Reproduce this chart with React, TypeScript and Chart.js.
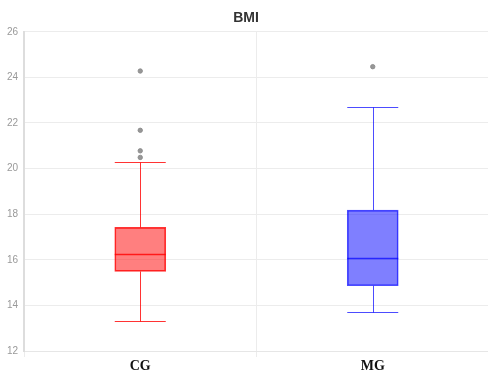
import React, { useEffect, useRef } from "react";
import { Chart, registerables } from "chart.js";

Chart.register(...registerables);

const categories = ["CG", "MG"];
const whiskerLow = [13.3, 13.69];
const q1 = [15.49, 14.86];
const median = [16.24, 16.1];
const q3 = [17.42, 18.18];
const whiskerHigh = [20.27, 22.68];
const outliersCG = [24.28, 21.68, 20.78, 20.49];
const outliersMG = [24.47];
const yTicks = [12, 14, 16, 18, 20, 22, 24, 26];

const fills = ["rgba(255,0,0,0.5)", "rgba(0,0,255,0.5)"];
const strokes = ["rgba(255,0,0,0.8)", "rgba(0,0,255,0.7)"];

const boxPlugin = {
  id: "boxWhiskers",
  afterDatasetsDraw(chart: any) {
    const ctx = chart.ctx;
    const x = chart.scales.x;
    const y = chart.scales.y;
    const meta = chart.getDatasetMeta(0);
    ctx.save();
    categories.forEach((_, i) => {
      const bar = meta.data[i];
      const cx = x.getPixelForValue(i);
      const half = bar.width / 2;
      ctx.strokeStyle = strokes[i];
      ctx.lineWidth = 1;
      const yl = Math.round(y.getPixelForValue(whiskerLow[i])) + 0.5;
      const yh = Math.round(y.getPixelForValue(whiskerHigh[i])) + 0.5;
      const yq1 = y.getPixelForValue(q1[i]);
      const yq3 = y.getPixelForValue(q3[i]);
      const ym = Math.round(y.getPixelForValue(median[i])) + 0.5;
      const xc = Math.round(cx) + 0.5;
      ctx.beginPath();
      ctx.moveTo(xc, yq1);
      ctx.lineTo(xc, yl);
      ctx.moveTo(cx - half, yl);
      ctx.lineTo(cx + half, yl);
      ctx.moveTo(xc, yq3);
      ctx.lineTo(xc, yh);
      ctx.moveTo(cx - half, yh);
      ctx.lineTo(cx + half, yh);
      ctx.stroke();
      ctx.beginPath();
      ctx.lineWidth = 1.5;
      ctx.moveTo(cx - half, ym);
      ctx.lineTo(cx + half, ym);
      ctx.stroke();
    });
    ctx.restore();
  },
};

export default function App() {
  const ref = useRef<HTMLCanvasElement>(null);
  useEffect(() => {
    document.body.style.margin = "0";
    document.body.style.overflow = "hidden";
    const outlierData = [
      ...outliersCG.map((v) => ({ x: categories[0], y: v })),
      ...outliersMG.map((v) => ({ x: categories[1], y: v })),
    ];
    const chart = new Chart(ref.current as HTMLCanvasElement, {
      type: "bar",
      data: {
        labels: categories,
        datasets: [
          {
            type: "bar",
            data: categories.map((_, i) => [q1[i], q3[i]]) as any,
            backgroundColor: fills,
            borderColor: strokes,
            borderWidth: 1,
            borderSkipped: false,
            barThickness: 51,
          } as any,
          {
            type: "scatter",
            data: outlierData as any,
            backgroundColor: "rgba(140,140,140,0.9)",
            borderColor: "rgba(140,140,140,0.9)",
            pointRadius: 2.2,
            showLine: false,
          } as any,
        ],
      },
      options: {
        responsive: false,
        animation: false,
        layout: { padding: { left: 0, right: 2, top: 0, bottom: 0 } },
        plugins: {
          legend: { display: false },
          tooltip: { enabled: false },
          title: {
            display: true,
            text: "BMI",
            color: "#333",
            font: { family: "Arial, 'Liberation Sans', sans-serif", size: 14, weight: "bold" },
            padding: { top: 10, bottom: 5 },
          },
        },
        scales: {
          x: {
            type: "category",
            offset: true,
            grid: {
              offset: true,
              color: "#ececec",
              drawTicks: true,
              tickLength: 6,
            },
            border: { display: true, color: "#e6e6e6", width: 1 },
            ticks: {
              color: "#111",
              padding: 1,
              font: { family: "'Liberation Serif', 'DejaVu Serif', serif", size: 14, weight: "bold" },
            },
            afterFit(scale: any) {
              scale.height = 22;
              scale.paddingLeft = 0;
              scale.paddingRight = 0;
            },
          },
          y: {
            min: 12,
            max: 26,
            afterBuildTicks(scale: any) {
              scale.ticks = yTicks.map((v) => ({ value: v }));
            },
            grid: { color: "#ececec", drawTicks: false },
            border: { display: true, color: "#dddddd", width: 2 },
            ticks: {
              color: "#999",
              padding: 6,
              font: { family: "Arial, 'Liberation Sans', sans-serif", size: 10 },
            },
            afterFit(scale: any) {
              scale.width = 24;
              scale.paddingTop = 0;
              scale.paddingBottom = 0;
            },
          },
        },
      } as any,
      plugins: [boxPlugin],
    });
    return () => chart.destroy();
  }, []);
  return (
    <div style={{ width: 488, height: 373, overflow: "hidden" }}>
      <canvas ref={ref} width={494} height={373} />
    </div>
  );
}
